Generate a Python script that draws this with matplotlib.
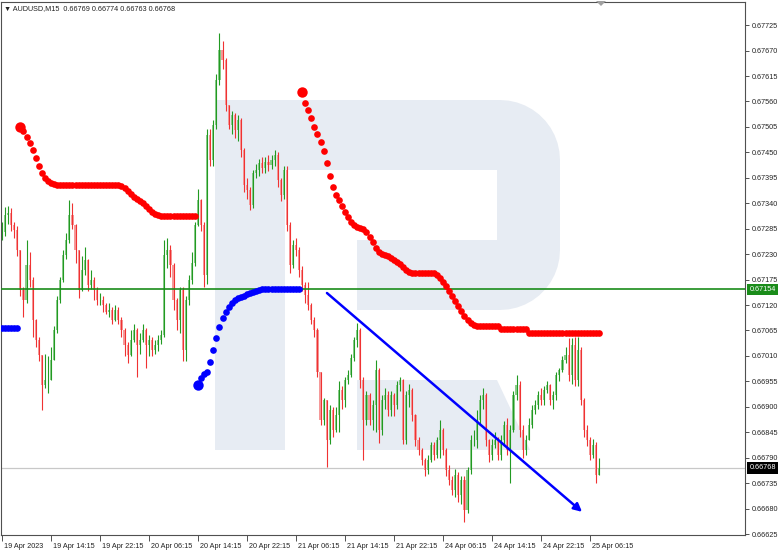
import matplotlib.pyplot as plt
import numpy as np
from matplotlib.patches import Polygon
from matplotlib.transforms import ScaledTranslation, blended_transform_factory

plt.rcParams['font.family'] = ['Liberation Sans', 'DejaVu Sans']

# AUDUSD M15 chart, bars resampled to 30 min
# prices are in points above 0.66000 (1 point = 0.00001)
base = 0.66
first_open_pt = 1270

closes_pt = [
    1278, 1314, 1320, 1293, 1282, 1239, 1152, 1131, 1206, 1174,
    1088, 1044, 1012, 947, 958, 958, 1001, 1066, 1131, 1174,
    1228, 1260, 1314, 1293, 1239, 1152, 1196, 1217, 1163,
    1174, 1152, 1131, 1131, 1120, 1105, 1109, 1088, 1109, 1088,
    1066, 1034, 1012, 1044, 1066, 1034, 1044, 1066, 1034, 1044,
    1023, 1034, 1044, 1055, 1228, 1239, 1206, 1131, 1088, 1152,
    1023, 1131, 1174, 1211, 1293, 1347, 1293, 1185, 1487, 1433,
    1509, 1606, 1671, 1649, 1552, 1509, 1531, 1498, 1520,
    1455, 1379, 1368, 1336, 1406, 1412, 1427, 1416, 1429, 1422,
    1433, 1444, 1390, 1358, 1412, 1293, 1206, 1250, 1239, 1196,
    1163, 1142, 1120, 1088, 1066, 975, 871, 915, 828, 893,
    850, 882, 936, 915, 958, 969, 1005, 1044, 1066, 958,
    871, 925, 871, 904, 980, 850, 915, 925, 893,
    925, 904, 947, 958, 828, 925, 936, 882, 828, 807,
    785, 763, 785, 817, 796, 828, 850, 807, 763, 742,
    720, 753, 709, 742, 677, 763, 828, 828, 871, 915,
    925, 828, 796, 817, 828, 796, 828, 861, 807, 850,
    925, 947, 850, 807, 828, 861, 893, 904, 925,
    915, 936, 947, 915, 925, 969, 980, 1001, 1012, 969,
    1034, 958, 1023, 915, 850, 828, 796, 817, 753, 768,
]
highs_pt = [
    1300, 1332, 1335, 1330, 1300, 1290, 1240, 1160, 1260, 1235,
    1180, 1090, 1050, 1012, 1015, 1010, 1030, 1075, 1140, 1180,
    1240, 1275, 1347, 1340, 1295, 1180, 1225, 1245, 1220,
    1195, 1180, 1160, 1145, 1140, 1125, 1125, 1115, 1120, 1115,
    1095, 1070, 1040, 1065, 1080, 1070, 1060, 1080, 1070, 1055,
    1050, 1045, 1055, 1066, 1260, 1265, 1250, 1210, 1135, 1160,
    1160, 1140, 1185, 1235, 1300, 1370, 1350, 1300, 1500, 1500,
    1520, 1620, 1708, 1690, 1655, 1550, 1540, 1535, 1530,
    1525, 1460, 1395, 1375, 1412, 1425, 1435, 1440, 1440, 1445,
    1445, 1455, 1450, 1395, 1420, 1420, 1300, 1260, 1265, 1245,
    1205, 1170, 1170, 1125, 1095, 1070, 975, 920, 915, 905,
    900, 900, 955, 945, 965, 980, 1015, 1050, 1081, 1070,
    965, 935, 930, 915, 1001, 985, 925, 940, 935,
    935, 930, 955, 965, 960, 935, 950, 940, 885, 835,
    810, 790, 795, 825, 825, 835, 871, 855, 810, 775,
    750, 765, 760, 750, 750, 770, 840, 850, 893, 925,
    940, 930, 830, 830, 845, 835, 840, 870, 875, 860,
    935, 969, 955, 860, 840, 875, 905, 915, 935,
    940, 945, 955, 950, 935, 975, 985, 1010, 1030, 1049,
    1049, 1050, 1052, 1030, 920, 860, 835, 830, 825, 790,
]
lows_pt = [
    1260, 1270, 1295, 1280, 1265, 1225, 1140, 1094, 1125, 1160,
    1050, 1030, 1000, 893, 940, 930, 965, 1001, 1060, 1125,
    1170, 1220, 1255, 1285, 1210, 1135, 1150, 1185, 1150,
    1155, 1130, 1120, 1120, 1105, 1100, 1095, 1080, 1085, 1080,
    1050, 1010, 995, 1010, 1040, 965, 1015, 1040, 985, 1010,
    1010, 1015, 1020, 1035, 1050, 1200, 1180, 1110, 1066, 1060,
    1000, 1000, 1120, 1165, 1205, 1290, 1280, 1159, 1165, 1420,
    1420, 1500, 1595, 1630, 1540, 1500, 1490, 1480, 1475,
    1440, 1365, 1350, 1325, 1330, 1395, 1400, 1405, 1405, 1410,
    1415, 1420, 1375, 1345, 1350, 1280, 1190, 1200, 1225, 1180,
    1150, 1125, 1110, 1080, 1050, 965, 860, 860, 770, 820,
    835, 845, 845, 895, 900, 950, 965, 1000, 1030, 940,
    785, 860, 860, 850, 845, 822, 840, 895, 880,
    880, 880, 895, 935, 820, 820, 900, 870, 815, 795,
    775, 750, 755, 780, 785, 790, 790, 795, 750, 730,
    710, 705, 695, 690, 651, 670, 755, 815, 810, 860,
    895, 815, 780, 785, 810, 785, 785, 815, 795, 735,
    845, 915, 835, 790, 795, 835, 855, 885, 895,
    905, 905, 930, 905, 895, 915, 955, 975, 995, 955,
    950, 945, 945, 905, 835, 815, 785, 790, 735, 755,
]

# Parabolic SAR segments (start bar, values in points)
sar_blue1_start = 0
sar_blue1_pt = [1070, 1070, 1070, 1070, 1070, 1070]
sar_red1_start = 6
sar_red1_pt = [
    1505, 1496, 1483, 1470, 1455, 1438, 1420, 1405, 1394, 1388, 1384, 1381, 1379,
    1379, 1379, 1379, 1379, 1379, 1379, 1379, 1379, 1379, 1379,
    1379, 1379, 1379, 1379, 1379, 1379, 1379, 1379, 1379, 1379,
    1377, 1373, 1366, 1360, 1353, 1349, 1345, 1340, 1334, 1327, 1321, 1317, 1314,
    1312, 1312, 1312, 1312, 1312, 1312, 1312, 1312, 1312, 1312, 1312, 1312,
]
sar_blue2_start = 64
sar_blue2_pt = [
    947, 962, 971, 975, 997, 1023, 1049, 1072, 1092, 1105, 1116, 1124, 1131,
    1135, 1137, 1139, 1144, 1146, 1148, 1150, 1152,
    1154, 1154, 1154, 1154, 1154, 1154, 1154, 1154, 1154, 1154, 1154, 1154, 1154,
]
sar_red2_start = 98
sar_red2_pt = [
    1580, 1556, 1541, 1524, 1505, 1489, 1472, 1453, 1427, 1399, 1375, 1358,
    1347, 1334, 1321, 1310, 1299, 1293, 1288, 1286, 1284, 1278, 1267, 1256,
    1243, 1234, 1230, 1228, 1226, 1221, 1217, 1213, 1209, 1202, 1196, 1191,
    1189, 1189, 1189, 1189, 1189, 1189, 1189, 1189,
    1185, 1178, 1170, 1161, 1150, 1139, 1129, 1118, 1107, 1096, 1088, 1081, 1077,
    1075, 1075, 1075, 1075, 1075, 1075, 1075, 1075,
    1068, 1068, 1068, 1068, 1068, 1068, 1068, 1068, 1068,
    1059, 1059, 1059, 1059, 1059, 1059, 1059, 1059, 1059, 1059, 1059, 1059,
    1059, 1059, 1059, 1059, 1059, 1059, 1059, 1059, 1059, 1059, 1059, 1059,
]

level_green = 0.67154
last_price = 0.66768
trend_bars = [106.1, 189.4]
trend_prices = [0.67146, 0.66673]

header = "\u25bc AUDUSD,M15  0.66769 0.66774 0.66763 0.66768"
time_ticks = [0, 16, 32, 48, 64, 80, 96, 112, 128, 144, 160, 176, 192]
time_labels = ["19 Apr 2023", "19 Apr 14:15", "19 Apr 22:15", "20 Apr 06:15",
               "20 Apr 14:15", "20 Apr 22:15", "21 Apr 06:15", "21 Apr 14:15",
               "21 Apr 22:15", "24 Apr 06:15", "24 Apr 14:15", "24 Apr 22:15",
               "25 Apr 06:15"]
price_ticks = [0.66625, 0.66680, 0.66735, 0.66790, 0.66845, 0.66900, 0.66955,
               0.67010, 0.67065, 0.67120, 0.67175, 0.67230, 0.67285, 0.67340,
               0.67395, 0.67450, 0.67505, 0.67560, 0.67615, 0.67670, 0.67725]


def pts(v):
    return base + np.array(v) / 1e5


closes = pts(closes_pt)
highs = pts(highs_pt)
lows = pts(lows_pt)
opens = np.concatenate([[pts(first_open_pt)], closes[:-1]])
highs = np.maximum(highs, np.maximum(opens, closes))
lows = np.minimum(lows, np.minimum(opens, closes))
x = np.arange(len(closes))

W, H = 782, 552
fig = plt.figure(figsize=(W / 100, H / 100), dpi=100)
# plot frame in pixels: x 1..745, y 2..535
ax = fig.add_axes([1 / W, (H - 535) / H, 744 / W, 533 / H])
ax.set_xlim(-0.33, 242.6)
ax.set_ylim(0.66623, 0.67775)


def ax_px(px, py):
    return ((px - 1) / 744, (535 - py) / 533)


# watermark logo
wm = '#e7ecf3'
outer = [(215, 100), (500, 100)]
for t in np.linspace(np.pi / 2, 0, 12):
    outer.append((500 + 60 * np.cos(t), 160 - 60 * np.sin(t)))
for t in np.linspace(0, -np.pi / 2, 12):
    outer.append((500 + 60 * np.cos(t), 250 - 60 * np.sin(t)))
outer += [(357, 310), (357, 240), (497, 240), (497, 170), (285, 170),
          (285, 450), (215, 450)]
ax.add_patch(Polygon([ax_px(*p) for p in outer], closed=True, fc=wm, ec='none',
                     transform=ax.transAxes, zorder=0))
leg = [(357, 380), (497, 380), (530, 450), (357, 450)]
ax.add_patch(Polygon([ax_px(*p) for p in leg], closed=True, fc=wm, ec='none',
                     transform=ax.transAxes, zorder=0))

# horizontal lines
ax.axhline(last_price, color='#c8c8c8', lw=0.9, zorder=1)
ax.axhline(level_green, color='#1a8c1a', lw=1.2, zorder=3)

# candles
up = closes >= opens
dn = ~up
ax.bar(x[up], closes[up] - opens[up], bottom=opens[up], width=0.7,
       color='#8ccc8c', lw=0, zorder=2)
ax.bar(x[dn], opens[dn] - closes[dn], bottom=closes[dn], width=0.7,
       color='#f59a9a', lw=0, zorder=2)
ax.vlines(x[up], lows[up], highs[up], color='#229a22', lw=0.8, zorder=2)
ax.vlines(x[dn], lows[dn], highs[dn], color='#f03232', lw=0.8, zorder=2)

# parabolic SAR
segs = [(sar_blue1_start, sar_blue1_pt, '#0000ff', False),
        (sar_red1_start, sar_red1_pt, '#ff0000', True),
        (sar_blue2_start, sar_blue2_pt, '#0000ff', True),
        (sar_red2_start, sar_red2_pt, '#ff0000', True)]
for start, vals, col, big in segs:
    sx = np.arange(start, start + len(vals))
    sy = pts(vals)
    ax.plot(sx, sy, 'o', ms=4.8, color=col, mec='none', zorder=4)
    if big:
        ax.plot(sx[0], sy[0], 'o', ms=7.5, color=col, mec='none', zorder=4)

# trend arrow
ax.annotate('', xy=(trend_bars[1], trend_prices[1]),
            xytext=(trend_bars[0], trend_prices[0]),
            arrowprops=dict(arrowstyle='-|>', color='#0000ff', lw=1.8,
                            mutation_scale=12, shrinkA=0, shrinkB=0),
            zorder=5)

# axes styling
for s in ax.spines.values():
    s.set_color('#505050')
    s.set_linewidth(0.8)
ax.yaxis.tick_right()
ax.set_yticks(price_ticks)
ax.set_yticklabels(['%.5f' % p for p in price_ticks])
ax.tick_params(axis='y', direction='out', length=3, width=0.7, pad=2,
               labelsize=5.2, colors='#505050', labelcolor='#222222')
ax.set_xticks(time_ticks)
ax.set_xticklabels(time_labels, ha='left')
ax.tick_params(axis='x', direction='out', length=4, width=0.7, pad=1.5,
               labelsize=5.2, colors='#505050', labelcolor='#222222')
off = ScaledTranslation(2 / 100, 0, fig.dpi_scale_trans)
for lab in ax.get_xticklabels():
    lab.set_transform(lab.get_transform() + off)

# price tags on the right scale
tr = blended_transform_factory(ax.transAxes, ax.transData)
ax.text(1.006, level_green, '0.67154', transform=tr, fontsize=5.2, color='white',
        va='center', ha='left', zorder=6, clip_on=False,
        bbox=dict(boxstyle='square,pad=0.3', fc='#1a8c1a', ec='none'))
ax.text(1.006, last_price, '0.66768', transform=tr, fontsize=5.2, color='white',
        va='center', ha='left', zorder=6, clip_on=False,
        bbox=dict(boxstyle='square,pad=0.3', fc='#000000', ec='none'))

# header and chart shift marker
fig.text(4 / W, 1 - 9 / H, header, fontsize=5.2, color='#222222', va='center')
fig.patches.append(Polygon([(596 / W, 1 - 1 / H), (606 / W, 1 - 1 / H),
                            (601 / W, 1 - 6 / H)], closed=True, fc='#a0a0a0',
                           ec='none', transform=fig.transFigure))

fig.savefig('out.png', dpi=100)
